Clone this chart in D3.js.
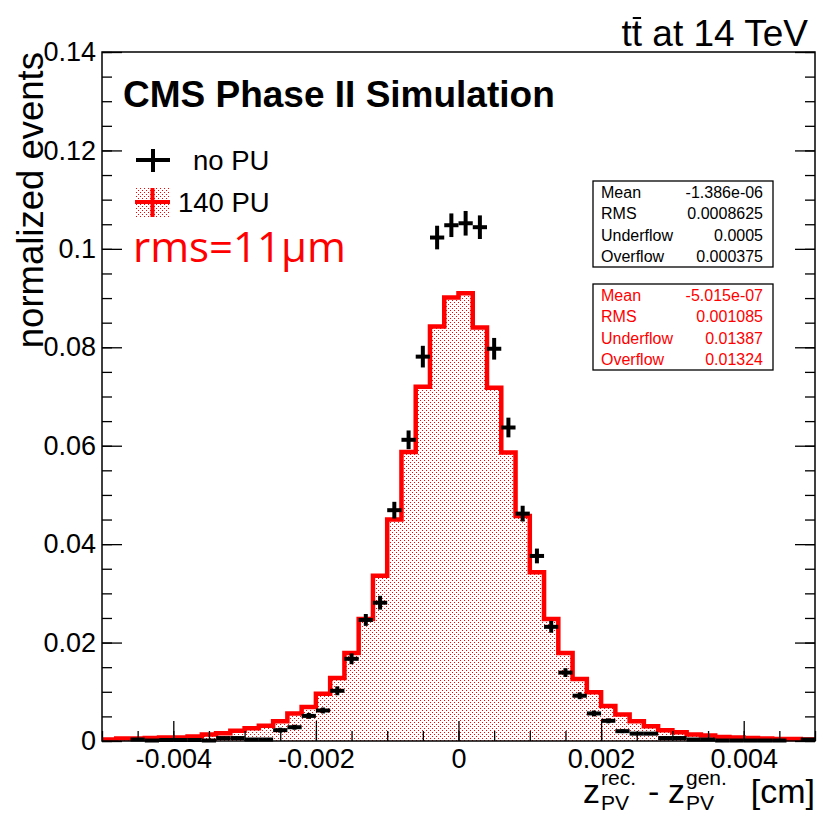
<!DOCTYPE html>
<meta charset="utf-8">
<style>
body { margin: 0; background: #fff; }
text { font-family: "Liberation Sans", Arial, sans-serif; }
.axis path { display: none; }
.axis line { stroke: #000; stroke-width: 1.3; }
.ylab text { font-size: 27px; fill: #000; }
.xlab text { font-size: 27px; fill: #000; }
.stat text { font-size: 16px; }
</style>
<body>
<svg width="817" height="815"></svg>
<script src="https://d3js.org/d3.v7.min.js"></script>
<script>

// 50 bins from -0.005 to 0.005 cm
var xLow = -0.005, xHigh = 0.005, nBins = 50;
var binWidth = (xHigh - xLow) / nBins;

// 140 PU, normalized bin contents (red filled histogram)
var pu140 = [
  0.0003, 0.0005, 0.0005, 0.0006, 0.0007, 0.0007, 0.0009, 0.0013, 0.0016, 0.0021,
  0.0026, 0.0031, 0.0040, 0.0056, 0.0069, 0.0096, 0.0128, 0.0179, 0.0248, 0.0336,
  0.0450, 0.0587, 0.0720, 0.0842, 0.0901, 0.0910, 0.0840, 0.0718, 0.0586, 0.0457,
  0.0343, 0.0248, 0.0179, 0.0126, 0.0099, 0.0071, 0.0054, 0.0040, 0.0030, 0.0022,
  0.0018, 0.0013, 0.0011, 0.0008, 0.0007, 0.0006, 0.0005, 0.0004, 0.0004, 0.0003
];

// no PU, normalized bin contents and errors (black crosses)
var noPU = [
  0, 0, 0.0003, 0.0001, 0.0002, 0.0002, 0.0002, 0.0001, 0.0006, 0.0006,
  0.0003, 0.0003, 0.0022, 0.0028, 0.0051, 0.0062, 0.0102, 0.0167, 0.0246, 0.0281,
  0.0469, 0.0612, 0.0781, 0.1023, 0.1048, 0.1052, 0.1044, 0.0797, 0.0637, 0.0462,
  0.0376, 0.0232, 0.0139, 0.0092, 0.0056, 0.0041, 0.0020, 0.0015, 0.0015, 0.0006,
  0.0006, 0.0003, 0.0003, 0.0001, 0.0001, 0.0001, 0.0001, 0.0001, 0, 0.0003
];
var noPUerr = [
  0, 0, 0.0002, 0.0001, 0.00015, 0.00015, 0.00015, 0.0001, 0.00025, 0.00025,
  0.0002, 0.0002, 0.0005, 0.0005, 0.0006, 0.0006, 0.0009, 0.0011, 0.0012, 0.0014,
  0.0017, 0.0019, 0.0022, 0.0024, 0.0024, 0.0025, 0.0024, 0.0022, 0.0020, 0.0016,
  0.0015, 0.0012, 0.0009, 0.0007, 0.0006, 0.0005, 0.0004, 0.0003, 0.0003, 0.00025,
  0.00025, 0.0002, 0.0002, 0.0001, 0.0001, 0.0001, 0.0001, 0.0001, 0, 0.0002
];

var yTicks = [0, 0.02, 0.04, 0.06, 0.08, 0.1, 0.12, 0.14];
var xTicks = [-0.004, -0.002, 0, 0.002, 0.004];

var statNames = ["Mean", "RMS", "Underflow", "Overflow"];
var statsNoPU = ["-1.386e-06", "0.0008625", "0.0005", "0.000375"];
var stats140 = ["-5.015e-07", "0.001085", "0.01387", "0.01324"];

var svg = d3.select("svg");

var x = d3.scaleLinear().domain([xLow, xHigh]).range([102, 815]);
var y = d3.scaleLinear().domain([0, 0.14]).range([741, 52]);

var defs = svg.append("defs");
var pat = defs.append("pattern")
  .attr("id", "dots")
  .attr("width", 4).attr("height", 4)
  .attr("patternUnits", "userSpaceOnUse");
pat.append("rect").attr("width", 4).attr("height", 4).attr("fill", "#fff");
pat.append("rect").attr("x", 0).attr("y", 0).attr("width", 1).attr("height", 1).attr("fill", "#ff0000");
pat.append("rect").attr("x", 2).attr("y", 2).attr("width", 1).attr("height", 1).attr("fill", "#ff0000");

// bins with their left edge; one extra point closes the last step
var bins = pu140.map(function(v, i) { return {lo: xLow + i * binWidth, v: v}; });
bins.push({lo: xHigh, v: pu140[pu140.length - 1]});

var area = d3.area()
  .x(function(d) { return x(d.lo); })
  .y0(y(0))
  .y1(function(d) { return y(d.v); })
  .curve(d3.curveStepAfter);

var line = d3.line()
  .x(function(d) { return x(d.lo); })
  .y(function(d) { return y(d.v); })
  .curve(d3.curveStepAfter);

svg.append("path")
  .datum(bins)
  .attr("d", area)
  .attr("fill", "url(#dots)");

svg.append("path")
  .datum(bins)
  .attr("d", line)
  .attr("fill", "none")
  .attr("stroke", "#ff0000")
  .attr("stroke-width", 4.5);

// no PU crosses
var pts = noPU.map(function(v, i) { return {lo: xLow + i * binWidth, v: v, e: noPUerr[i]}; })
  .filter(function(d) { return d.v > 0; });

var cross = svg.append("g").attr("stroke", "#000").attr("stroke-width", 4);
cross.selectAll(".hbar")
  .data(pts)
  .enter().append("line")
  .attr("class", "hbar")
  .attr("x1", function(d) { return x(d.lo); })
  .attr("x2", function(d) { return x(d.lo + binWidth); })
  .attr("y1", function(d) { return y(d.v); })
  .attr("y2", function(d) { return y(d.v); });
cross.selectAll(".vbar")
  .data(pts)
  .enter().append("line")
  .attr("class", "vbar")
  .attr("x1", function(d) { return x(d.lo + binWidth / 2); })
  .attr("x2", function(d) { return x(d.lo + binWidth / 2); })
  .attr("y1", function(d) { return y(d.v - d.e); })
  .attr("y2", function(d) { return y(d.v + d.e); });

// axes, ticks inside the frame
var fmtY = function(d) { return d === 0 ? "0" : String(+d.toFixed(2)); };
var fmtX = function(d) { return d === 0 ? "0" : String(+d.toFixed(3)); };

svg.append("g").attr("class", "axis ylab")
  .attr("transform", "translate(102,0)")
  .call(d3.axisLeft(y).tickValues(yTicks).tickSize(-20).tickPadding(6).tickFormat(fmtY));
svg.append("g").attr("class", "axis")
  .attr("transform", "translate(102,0)")
  .call(d3.axisLeft(y).ticks(28).tickSize(-10).tickFormat(""));
svg.append("g").attr("class", "axis")
  .attr("transform", "translate(815,0)")
  .call(d3.axisRight(y).tickValues(yTicks).tickSize(-20).tickFormat(""));
svg.append("g").attr("class", "axis")
  .attr("transform", "translate(815,0)")
  .call(d3.axisRight(y).ticks(28).tickSize(-10).tickFormat(""));
svg.append("g").attr("class", "axis xlab")
  .attr("transform", "translate(0,741)")
  .call(d3.axisBottom(x).tickValues(xTicks).tickSize(-20).tickPadding(8).tickFormat(fmtX));
svg.append("g").attr("class", "axis")
  .attr("transform", "translate(0,741)")
  .call(d3.axisBottom(x).ticks(20).tickSize(-10).tickFormat(""));

svg.append("rect")
  .attr("x", 102).attr("y", 52)
  .attr("width", 713).attr("height", 689)
  .attr("fill", "none")
  .attr("stroke", "#000")
  .attr("stroke-width", 1.5);

// axis titles
svg.append("text")
  .attr("transform", "translate(43,52) rotate(-90)")
  .attr("text-anchor", "end")
  .style("font-size", "36.5px")
  .text("normalized events");

var xt = svg.append("g").style("font-size", "34px");
xt.append("text").attr("x", 583).attr("y", 803).text("z");
xt.append("text").attr("x", 601).attr("y", 785).style("font-size", "21px").text("rec.");
xt.append("text").attr("x", 601).attr("y", 810).style("font-size", "21px").text("PV");
xt.append("text").attr("x", 648).attr("y", 803).text("-");
xt.append("text").attr("x", 668).attr("y", 803).text("z");
xt.append("text").attr("x", 686).attr("y", 785).style("font-size", "21px").text("gen.");
xt.append("text").attr("x", 686).attr("y", 810).style("font-size", "21px").text("PV");
xt.append("text").attr("x", 815).attr("y", 803).attr("text-anchor", "end").text("[cm]");

// title top right, with bar over the second t
var title = svg.append("text")
  .attr("x", 808).attr("y", 46)
  .attr("text-anchor", "end")
  .style("font-size", "37px")
  .text("tt at 14 TeV");
var ext = title.node().getExtentOfChar(1);
svg.append("line")
  .attr("x1", ext.x + 1).attr("x2", ext.x + ext.width - 1)
  .attr("y1", 18).attr("y2", 18)
  .attr("stroke", "#000").attr("stroke-width", 2);

svg.append("text")
  .attr("x", 123).attr("y", 107)
  .style("font-size", "37px")
  .style("font-weight", "bold")
  .text("CMS Phase II Simulation");

// legend
var leg = svg.append("g");
leg.append("line").attr("x1", 136).attr("x2", 170).attr("y1", 160).attr("y2", 160)
  .attr("stroke", "#000").attr("stroke-width", 4);
leg.append("line").attr("x1", 153).attr("x2", 153).attr("y1", 149).attr("y2", 172)
  .attr("stroke", "#000").attr("stroke-width", 4);
leg.append("text").attr("x", 193).attr("y", 170).style("font-size", "27.5px").text("no PU");

leg.append("rect").attr("x", 135).attr("y", 188).attr("width", 35).attr("height", 29)
  .attr("fill", "url(#dots)");
leg.append("line").attr("x1", 135).attr("x2", 170).attr("y1", 202).attr("y2", 202)
  .attr("stroke", "#ff0000").attr("stroke-width", 4);
leg.append("line").attr("x1", 152.5).attr("x2", 152.5).attr("y1", 188).attr("y2", 217)
  .attr("stroke", "#ff0000").attr("stroke-width", 4);
leg.append("text").attr("x", 178).attr("y", 212).style("font-size", "27.5px").text("140 PU");

svg.append("text")
  .attr("x", 133).attr("y", 262)
  .style("font-family", "'Open Sans', sans-serif")
  .style("font-size", "42px")
  .attr("fill", "#ff0000")
  .text("rms=11\u03bcm");

// stat boxes
function statBox(top, vals, color) {
  var g = svg.append("g").attr("class", "stat");
  g.append("rect")
    .attr("x", 593).attr("y", top)
    .attr("width", 180).attr("height", 86)
    .attr("fill", "#fff").attr("stroke", "#000").attr("stroke-width", 1.3);
  statNames.forEach(function(n, i) {
    g.append("text").attr("x", 601).attr("y", top + 17 + i * 21.3).attr("fill", color).text(n);
    g.append("text").attr("x", 763).attr("y", top + 17 + i * 21.3)
      .attr("text-anchor", "end").attr("fill", color).text(vals[i]);
  });
}
statBox(181, statsNoPU, "#000");
statBox(284, stats140, "#ff0000");

</script>
</body>
</html>
